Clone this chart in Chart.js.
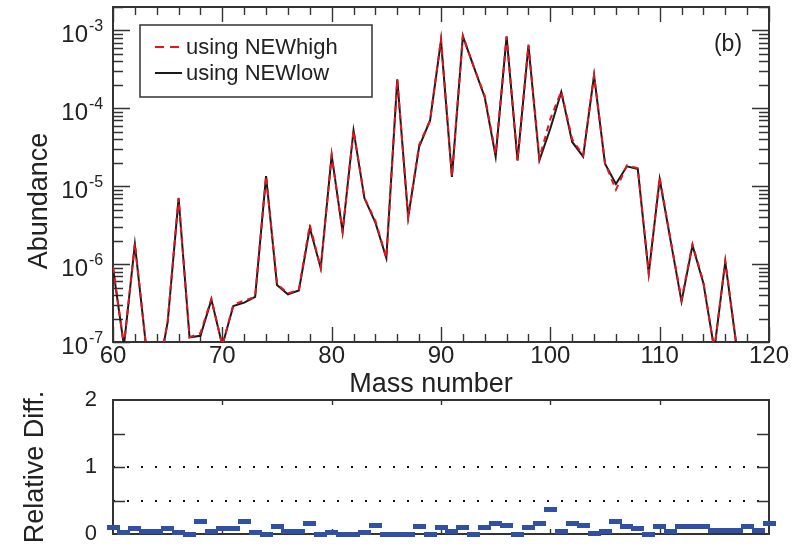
<!DOCTYPE html>
<html>
<head>
<meta charset="utf-8">
<title>Abundance vs mass number</title>
<script src="https://cdn.jsdelivr.net/npm/chart.js@4.4.1/dist/chart.umd.min.js"></script>
<style>
    html, body { margin: 0; padding: 0; background: #fff; }
    #wrap { position: relative; width: 798px; height: 549px; overflow: hidden; }
    #wrap canvas { position: absolute; left: 0; }
    #abundance-chart { top: 0; }
    #diff-chart { top: 380px; }
</style>
</head>
<body>
<div id="wrap">
    <canvas id="abundance-chart" width="798" height="400"></canvas>
    <canvas id="diff-chart" width="798" height="169"></canvas>
</div>
<script>
// Mass numbers (the abundance curves stop at 117, the diff markers run to 120)
const massNumbers = [60, 61, 62, 63, 64, 65, 66, 67, 68, 69, 70, 71, 72, 73, 74, 75, 76, 77, 78, 79,
    80, 81, 82, 83, 84, 85, 86, 87, 88, 89, 90, 91, 92, 93, 94, 95, 96, 97, 98, 99,
    100, 101, 102, 103, 104, 105, 106, 107, 108, 109, 110, 111, 112, 113, 114, 115, 116, 117, 118, 119, 120];

// abundance with the NEWlow rates (A = 60 ... 117)
const lowAbundance = [8.9e-7, 9e-8, 1.8e-6, 9.5e-8, 3e-8, 1.8e-7, 7.0e-6, 1.15e-7, 1.2e-7, 3.5e-7,
    9e-8, 2.9e-7, 3.2e-7, 3.8e-7, 1.35e-5, 5.4e-7, 4.1e-7, 4.6e-7, 2.9e-6, 8.9e-7,
    2.5e-5, 2.6e-6, 5.2e-5, 7.0e-6, 3.4e-6, 1.2e-6, 2.35e-4, 4.0e-6, 3.2e-5, 7.0e-5,
    7.4e-4, 1.32e-5, 8.4e-4, 3.4e-4, 1.39e-4, 2.4e-5, 8.4e-4, 2.15e-5, 6.4e-4, 2.15e-5,
    5.5e-5, 1.62e-4, 3.7e-5, 2.4e-5, 2.65e-4, 1.95e-5, 1.07e-5, 1.8e-5, 1.66e-5, 7.6e-7,
    1.23e-5, 2.0e-6, 3.3e-7, 1.74e-6, 5.7e-7, 8e-8, 1.07e-6, 9.5e-8];

// abundance with the NEWhigh rates (A = 60 ... 117)
const highAbundance = [9.2e-7, 9e-8, 1.85e-6, 9.5e-8, 3e-8, 1.85e-7, 7.1e-6, 1.15e-7, 1.3e-7, 3.6e-7,
    9e-8, 3.0e-7, 3.4e-7, 3.8e-7, 1.35e-5, 5.6e-7, 4.2e-7, 4.7e-7, 3.2e-6, 8.9e-7,
    2.5e-5, 2.6e-6, 5.2e-5, 7.1e-6, 3.6e-6, 1.2e-6, 2.35e-4, 4.0e-6, 3.4e-5, 7.0e-5,
    7.8e-4, 1.35e-5, 8.6e-4, 3.4e-4, 1.45e-4, 2.6e-5, 8.2e-4, 2.15e-5, 6.6e-4, 2.3e-5,
    7.3e-5, 1.65e-4, 4.0e-5, 2.5e-5, 2.65e-4, 1.98e-5, 9.0e-6, 1.85e-5, 1.7e-5, 7.6e-7,
    1.3e-5, 2.05e-6, 3.5e-7, 1.8e-6, 5.9e-7, 8e-8, 1.1e-6, 9.5e-8];

// relative difference between the two runs (A = 60 ... 120)
const relativeDiff = [0.10, 0.02, 0.08, 0.04, 0.04, 0.08, 0.02, 0.0, 0.19, 0.04,
    0.08, 0.08, 0.19, 0.02, 0.0, 0.11, 0.04, 0.04, 0.16, 0.0,
    0.02, 0.0, 0.0, 0.02, 0.13, 0.0, 0.0, 0.0, 0.115, 0.0,
    0.10, 0.04, 0.10, 0.0, 0.09, 0.16, 0.13, 0.0, 0.10, 0.16,
    0.37, 0.04, 0.16, 0.13, 0.01, 0.04, 0.19, 0.11, 0.085, 0.0,
    0.11, 0.04, 0.11, 0.11, 0.11, 0.05, 0.05, 0.05, 0.11, 0.05, 0.16];

// axis ticks
const massTicks = [60, 70, 80, 90, 100, 110, 120];
const massMinorTicks = [62, 64, 66, 68, 72, 74, 76, 78, 82, 84, 86, 88, 92, 94, 96, 98,
    102, 104, 106, 108, 112, 114, 116, 118];
const abundanceTicks = [1e-7, 1e-6, 1e-5, 1e-4, 1e-3];
const abundanceMax = 2e-3;
const diffTicks = [0, 1, 2];
const diffGuides = [0.5, 1];
const diffMinorTicks = [0.5, 1.5];

const fontFamily = "'Liberation Sans', Arial, Helvetica, sans-serif";
const textColor = '#222';
Chart.defaults.font.family = fontFamily;
Chart.defaults.color = textColor;

// 2..9 x 10^n minor ticks on the log axis
const abundanceMinorTicks = [];
abundanceTicks.forEach(decade => {
    for (let k = 2; k <= 9; k++) {
        const v = k * decade;
        if (v <= abundanceMax * 1.0001) abundanceMinorTicks.push(v);
    }
});

// Box frame with inward tick marks on all four sides
const frameTicks = {
    id: 'frameTicks',
    beforeDatasetsDraw(chart, args, opts) {
        const { ctx, chartArea: area, scales: { x, y } } = chart;
        ctx.save();
        ctx.strokeStyle = '#333';
        ctx.lineWidth = 1.4;
        ctx.beginPath();
        opts.xSets.forEach(set => {
            set.values.forEach(v => {
                const px = Math.round(x.getPixelForValue(v)) + 0.5;
                ctx.moveTo(px, area.bottom);
                ctx.lineTo(px, area.bottom - set.len);
                ctx.moveTo(px, area.top);
                ctx.lineTo(px, area.top + set.len);
            });
        });
        opts.ySets.forEach(set => {
            set.values.forEach(v => {
                const py = Math.round(y.getPixelForValue(v)) + 0.5;
                ctx.moveTo(area.left, py);
                ctx.lineTo(area.left + set.len, py);
                ctx.moveTo(area.right, py);
                ctx.lineTo(area.right - set.len, py);
            });
        });
        ctx.stroke();
        ctx.lineWidth = 2;
        ctx.strokeRect(area.left, area.top, area.right - area.left, area.bottom - area.top);
        ctx.restore();
    }
};

// Free text: axis captions and the panel tag
const panelText = {
    id: 'panelText',
    afterDraw(chart, args, opts) {
        const { ctx } = chart;
        opts.items.forEach(t => {
            ctx.save();
            ctx.translate(t.x, t.y);
            ctx.rotate(t.angle || 0);
            ctx.font = `${t.size}px ${fontFamily}`;
            ctx.fillStyle = textColor;
            ctx.textAlign = 'center';
            ctx.textBaseline = 'alphabetic';
            ctx.fillText(t.text, 0, 0);
            ctx.restore();
        });
    }
};

// 10^n labels with a raised exponent
const powerLabels = {
    id: 'powerLabels',
    afterDraw(chart, args, opts) {
        const { ctx, scales: { y } } = chart;
        ctx.save();
        ctx.fillStyle = textColor;
        ctx.textBaseline = 'alphabetic';
        abundanceTicks.forEach(v => {
            const py = y.getPixelForValue(v);
            const exp = Math.round(Math.log10(v));
            ctx.font = `24px ${fontFamily}`;
            ctx.textAlign = 'right';
            ctx.fillText('10', opts.x, py + 12);
            ctx.font = `16px ${fontFamily}`;
            ctx.textAlign = 'left';
            ctx.fillText(String(exp), opts.x + 1, py + 1);
        });
        ctx.restore();
    }
};

// Framed legend inside the plot
const boxLegend = {
    id: 'boxLegend',
    afterDraw(chart, args, opts) {
        const { ctx } = chart;
        ctx.save();
        ctx.lineWidth = 1.5;
        ctx.strokeStyle = '#333';
        ctx.strokeRect(opts.left, opts.top, opts.width, opts.height);
        ctx.font = `22px ${fontFamily}`;
        ctx.textBaseline = 'middle';
        ctx.textAlign = 'left';
        chart.data.datasets.forEach((ds, i) => {
            const py = opts.top + 22 + i * 26;
            ctx.strokeStyle = ds.borderColor;
            ctx.lineWidth = ds.borderWidth;
            ctx.setLineDash(ds.borderDash ? [9, 6] : []);
            ctx.beginPath();
            ctx.moveTo(opts.left + 15, py);
            ctx.lineTo(opts.left + 42, py);
            ctx.stroke();
            ctx.setLineDash([]);
            ctx.fillStyle = textColor;
            ctx.fillText(ds.label, opts.left + 46, py + 1);
        });
        ctx.restore();
    }
};

const toPoints = values => values.map((v, i) => ({ x: massNumbers[i], y: v }));

window.addEventListener('load', () => {
    const abundanceCanvas = document.getElementById('abundance-chart');
    const diffCanvas = document.getElementById('diff-chart');

    // Top panel: abundance curves
    new Chart(abundanceCanvas, {
        type: 'line',
        data: {
            datasets: [{
                label: 'using NEWhigh',
                data: toPoints(highAbundance),
                borderColor: '#e8141c',
                borderWidth: 2,
                borderDash: [6, 5],
                pointRadius: 0,
                tension: 0
            }, {
                label: 'using NEWlow',
                data: toPoints(lowAbundance),
                borderColor: '#1a1a1a',
                borderWidth: 2,
                pointRadius: 0,
                tension: 0
            }]
        },
        options: {
            responsive: false,
            animation: false,
            layout: { padding: { top: 7, right: 29, left: 0, bottom: 0 } },
            plugins: {
                legend: { display: false },
                tooltip: { enabled: false },
                frameTicks: {
                    xSets: [{ values: massTicks, len: 15 }, { values: massMinorTicks, len: 8 }],
                    ySets: [{ values: abundanceTicks, len: 17 }, { values: abundanceMinorTicks, len: 10 }]
                },
                powerLabels: { x: 88 },
                boxLegend: { left: 140, top: 25, width: 232, height: 72 },
                panelText: {
                    items: [
                        { text: 'Mass number', x: 431, y: 392, size: 27 },
                        { text: 'Abundance', x: 47, y: 201, size: 27, angle: -Math.PI / 2 },
                        { text: '(b)', x: 728, y: 51, size: 23 }
                    ]
                }
            },
            scales: {
                x: {
                    type: 'linear',
                    min: 60,
                    max: 120,
                    grid: { display: false, drawTicks: false },
                    border: { display: false },
                    afterBuildTicks: scale => { scale.ticks = massTicks.map(value => ({ value })); },
                    afterFit: scale => { scale.height = 58; },
                    ticks: { font: { size: 24 }, padding: 0, maxRotation: 0, autoSkip: false }
                },
                y: {
                    type: 'logarithmic',
                    min: abundanceTicks[0],
                    max: abundanceMax,
                    grid: { display: false, drawTicks: false },
                    border: { display: false },
                    afterBuildTicks: scale => { scale.ticks = abundanceTicks.map(value => ({ value })); },
                    afterFit: scale => { scale.width = 113; },
                    ticks: { display: false }
                }
            }
        },
        plugins: [frameTicks, powerLabels, boxLegend, panelText]
    });

    // Bottom panel: relative difference markers
    const dashMark = document.createElement('canvas');
    dashMark.width = 13;
    dashMark.height = 5;
    const markCtx = dashMark.getContext('2d');
    markCtx.fillStyle = '#2f50a5';
    markCtx.fillRect(0, 0, 13, 5);

    const diffScaleTicks = [...diffTicks, ...diffMinorTicks].sort((a, b) => a - b);

    new Chart(diffCanvas, {
        type: 'scatter',
        data: {
            datasets: [{
                label: 'Relative Diff.',
                data: massNumbers.map((m, i) => ({ x: m, y: relativeDiff[i] })),
                pointStyle: dashMark,
                pointRadius: 4,
                clip: false
            }]
        },
        options: {
            responsive: false,
            animation: false,
            layout: { padding: { top: 20, right: 29, left: 0, bottom: 0 } },
            plugins: {
                legend: { display: false },
                tooltip: { enabled: false },
                frameTicks: {
                    xSets: [{ values: [70, 80, 90, 100, 110], len: 5 }],
                    ySets: [{ values: [0.5, 1, 1.5], len: 12 }]
                },
                panelText: {
                    items: [{ text: 'Relative Diff.', x: 43, y: 87, size: 27, angle: -Math.PI / 2 }]
                }
            },
            scales: {
                x: {
                    type: 'linear',
                    min: 60,
                    max: 120,
                    grid: { display: false, drawTicks: false },
                    border: { display: false },
                    ticks: { display: false },
                    afterFit: scale => { scale.height = 15; }
                },
                y: {
                    type: 'linear',
                    min: 0,
                    max: 2,
                    afterBuildTicks: scale => { scale.ticks = diffScaleTicks.map(value => ({ value })); },
                    afterFit: scale => {
                        scale.width = 113;
                        // labels may overhang the frame; keep the plot height fixed
                        scale.paddingTop = 0;
                        scale.paddingBottom = 0;
                    },
                    grid: {
                        drawTicks: false,
                        lineWidth: 2,
                        color: ctx => diffGuides.includes(ctx.tick && ctx.tick.value) ? '#111' : 'rgba(0,0,0,0)'
                    },
                    border: { display: false, dash: [2, 12] },
                    ticks: {
                        font: { size: 22 },
                        padding: 16,
                        autoSkip: false,
                        callback: value => diffTicks.includes(value) ? String(value) : ''
                    }
                }
            }
        },
        plugins: [frameTicks, panelText]
    });
});
</script>
</body>
</html>
